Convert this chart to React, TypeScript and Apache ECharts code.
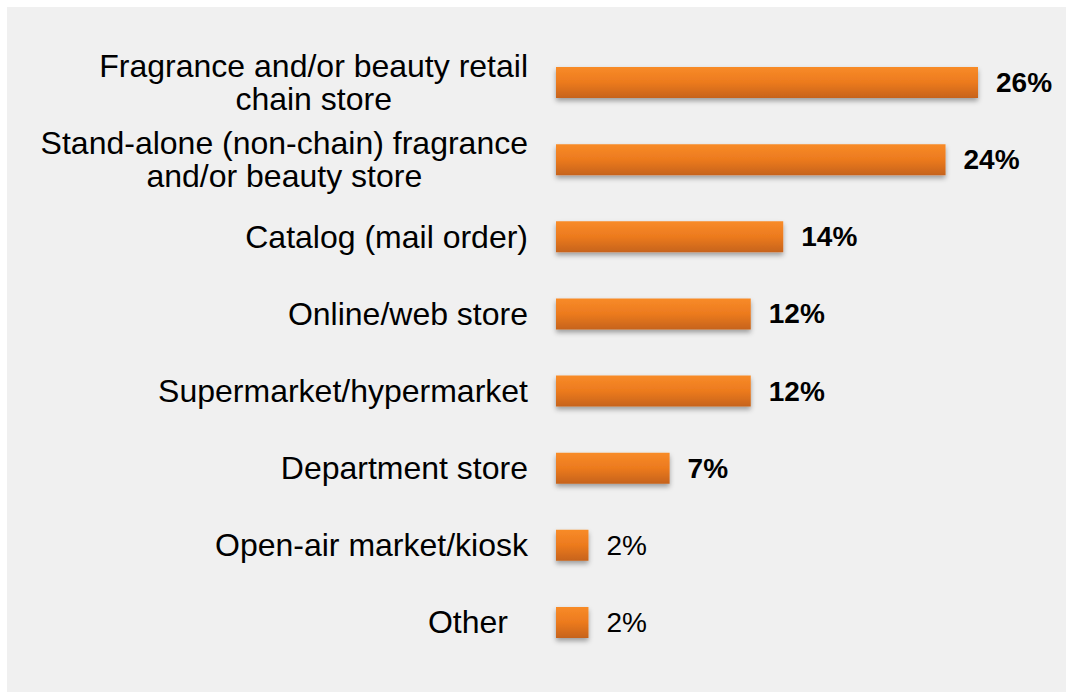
import React, { useEffect, useRef } from "react";
import * as echarts from "echarts";

const categories = [
  "Fragrance and/or beauty retail\nchain store",
  "Stand-alone (non-chain) fragrance\nand/or beauty store",
  "Catalog (mail order)",
  "Online/web store",
  "Supermarket/hypermarket",
  "Department store",
  "Open-air market/kiosk",
  "Other",
];
const values = [26, 24, 14, 12, 12, 7, 2, 2];

export default function App() {
  const ref = useRef<HTMLDivElement>(null);
  useEffect(() => {
    if (!ref.current) return;
    const chart = echarts.init(ref.current, null, { renderer: "svg" });
    const barColor = new echarts.graphic.LinearGradient(0, 0, 0, 1, [
      { offset: 0, color: "#f88b28" },
      { offset: 0.5, color: "#ec7a1e" },
      { offset: 1, color: "#c6631a" },
    ]);
    const font = "'Liberation Sans', Arial, sans-serif";
    chart.setOption({
      animation: false,
      backgroundColor: "#ffffff",
      graphic: [
        {
          type: "rect",
          left: 7,
          top: 7,
          shape: { x: 0, y: 0, width: 1059, height: 685 },
          style: { fill: "#f0f0f0" },
          z: -10,
        },
      ],
      grid: { left: 556, right: 88, top: 44, bottom: 31, containLabel: false },
      xAxis: {
        type: "value",
        min: 0,
        max: 26,
        show: false,
      },
      yAxis: {
        type: "category",
        inverse: true,
        data: categories,
        axisLine: { show: false },
        axisTick: { show: false },
        splitLine: { show: false },
        axisLabel: {
          margin: 28,
          color: "#000",
          fontFamily: font,
          fontSize: 32,
          lineHeight: 33,
          align: "right",
          formatter: (v: string) => {
            const s = v
              .split("\n")
              .map((l) => `{c|${l}}`)
              .join("\n");
            return v === "Other" ? s + "{sp|}" : s;
          },
          rich: {
            c: {
              align: "center",
              fontSize: 32,
              lineHeight: 33,
              color: "#000",
              fontFamily: font,
            },
            sp: { width: 20 },
          },
        },
      },
      series: [
        {
          type: "bar",
          barWidth: 31,
          data: values.map((v) => ({
            value: v,
            label: { fontWeight: v <= 2 ? "normal" : "bold" },
          })),
          itemStyle: {
            color: barColor,
            shadowBlur: 5,
            shadowOffsetY: 3,
            shadowColor: "rgba(0,0,0,0.35)",
          },
          label: {
            show: true,
            position: "right",
            distance: 18,
            color: "#000",
            fontSize: 28,
            fontWeight: "bold",
            fontFamily: font,
            formatter: "{c}%",
          },
        },
      ],
    });
    return () => chart.dispose();
  }, []);
  return (
    <div
      ref={ref}
      style={{ position: "fixed", left: 0, top: 0, width: 1066, height: 692 }}
    />
  );
}
